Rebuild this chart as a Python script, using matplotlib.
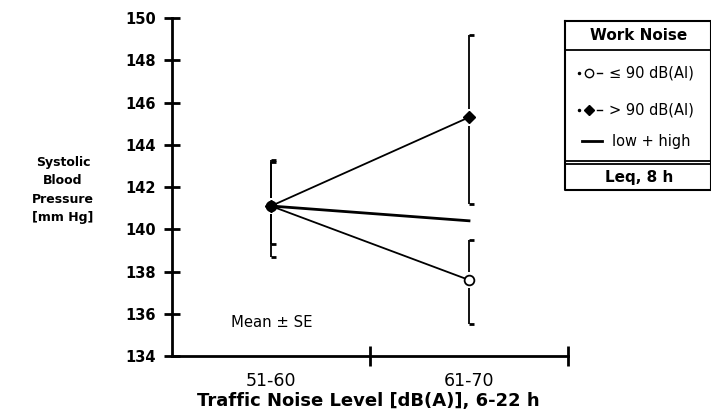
import matplotlib
matplotlib.use('Agg')
from matplotlib import pyplot as plt

# traffic noise groups (category positions sit between the axis ticks)
groups = ['51-60', '61-70']
x_pos = [0.5, 1.5]

# work noise <= 90 dB(AI): mean and SE bracket ends
low_mean = [141.1, 137.6]
low_upper = [143.3, 139.5]
low_lower = [138.7, 135.5]

# work noise > 90 dB(AI)
high_mean = [141.1, 145.3]
high_upper = [143.2, 149.2]
high_lower = [139.3, 141.2]

# both groups together
all_mean = [141.1, 140.4]

y_ticks = [134, 136, 138, 140, 142, 144, 146, 148, 150]

fig = plt.figure(figsize=(7.11, 4.19), dpi=100)
ax = fig.add_axes([172 / 711, 1 - 356 / 419, 396 / 711, 338 / 419])

ax.plot(x_pos, all_mean, color='black', lw=2.0, zorder=2)
ax.plot(x_pos, low_mean, color='black', lw=1.3, marker='o', ms=7,
        mfc='white', mec='black', mew=1.3, zorder=3)
ax.plot(x_pos, high_mean, color='black', lw=1.3, marker='D', ms=6,
        mfc='black', mec='black', zorder=4)


def brackets(xs, means, upper, lower, gap):
    # "[" shaped SE brackets with a small break around the marker
    for x, m, u, l in zip(xs, means, upper, lower):
        ax.vlines(x, m + gap, u, color='black', lw=1.3, zorder=1)
        ax.vlines(x, l, m - gap, color='black', lw=1.3, zorder=1)
        ax.hlines([u, l], x, x + 0.025, color='black', lw=2.0, zorder=1)


brackets(x_pos, low_mean, low_upper, low_lower, 0.4)
brackets(x_pos, high_mean, high_upper, high_lower, 0.4)

ax.set_xlim(0, 2)
ax.set_ylim(134, 150)
ax.set_yticks(y_ticks)
ax.set_yticklabels([str(t) for t in y_ticks], fontsize=10.5, fontweight='bold')
ax.set_xticks([1, 2])
ax.set_xticklabels([])
for x, g in zip(x_pos, groups):
    ax.text(x, 132.8, g, ha='center', va='center', fontsize=12.5)

for side in ['top', 'right']:
    ax.spines[side].set_visible(False)
for side in ['left', 'bottom']:
    ax.spines[side].set_linewidth(2.0)
ax.tick_params(axis='both', direction='inout', length=11, width=2.0, pad=6)
ax.tick_params(axis='x', length=14)

ax.text(0.30, 135.6, 'Mean \u00b1 SE', ha='left', va='center', fontsize=10.7)

fig.text(368 / 711, 1 - 401 / 419, 'Traffic Noise Level [dB(A)], 6-22 h',
         ha='center', va='center', fontsize=13, fontweight='bold')
fig.text(63 / 711, 1 - 190 / 419, 'Systolic\nBlood\nPressure\n[mm Hg]',
         ha='center', va='center', fontsize=9, fontweight='bold',
         linespacing=1.55)

# legend drawn as a boxed table at the right edge
lg = fig.add_axes([565 / 711, 1 - 190 / 419, 146 / 711, 169 / 419])
lg.set_xlim(565, 711)
lg.set_ylim(190, 21)
lg.axis('off')
lg.plot([565, 711, 711, 565, 565], [21, 21, 190, 190, 21], color='black',
        lw=1.5, clip_on=False)
lg.hlines([50, 161, 164], 565, 711, color='black', lw=1.3)
lg.text(639, 35, 'Work Noise', ha='center', va='center', fontsize=11,
        fontweight='bold')
lg.text(639, 177, 'Leq, 8 h', ha='center', va='center', fontsize=11,
        fontweight='bold')
for yy, mk, fc, ms in [(73, 'o', 'white', 6), (110, 'D', 'black', 5)]:
    lg.plot([579], [yy], marker='.', ms=3, color='black')
    lg.plot([597, 602], [yy, yy], color='black', lw=1)
    lg.plot([589], [yy], marker=mk, ms=ms, mfc=fc, mec='black', mew=1)
lg.text(609, 73, '\u2264 90 dB(AI)', ha='left', va='center', fontsize=10.5)
lg.text(609, 110, '> 90 dB(AI)', ha='left', va='center', fontsize=10.5)
lg.plot([582, 602], [141, 141], color='black', lw=2)
lg.text(612, 141, 'low + high', ha='left', va='center', fontsize=10.5)

fig.savefig('out.png', dpi=100)
